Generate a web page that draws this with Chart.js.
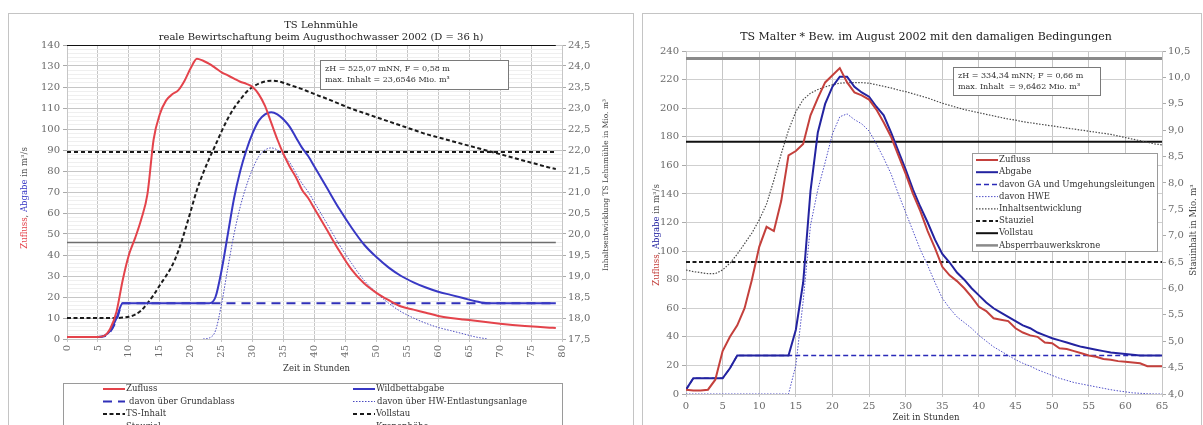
<!DOCTYPE html>
<html>
<head>
<meta charset="utf-8">
<script src="https://cdn.jsdelivr.net/npm/chart.js@4.4.1/dist/chart.umd.min.js"></script>
<style>
  body { margin: 0; background: #fff; width: 1203px; height: 425px; overflow: hidden; position: relative; }
  .panel { position: absolute; top: 13px; height: 430px; border: 1px solid #c4c4c4; box-sizing: border-box; }
  #panelL { left: 8px; width: 626px; }
  #panelR { left: 642px; width: 560px; }
  canvas { position: absolute; }
  #lehn { left: 8px; top: 13px; }
  #malter { left: 643px; top: 13px; }
</style>
</head>
<body>
<div class="panel" id="panelL"></div>
<div class="panel" id="panelR"></div>
<canvas id="lehn" width="625" height="427"></canvas>
<canvas id="malter" width="557" height="427"></canvas>
<script>
// ---- TS Lehnmühle (Stunden, m³/s, Mio. m³)
var lmHours = [0,1,2,3,4,5,6,7,8,9,10,11,12,13,14,15,16,17,18,19,20,21,22,23,24,25,26,27,28,29,30,31,32,33,34,35,36,37,38,39,40,
  42,44,46,48,50,52,54,56,58,60,62,64,66,68,70,72,74,76,78,79];
var lmZufluss = [1,1,1,1,1,1,1.5,5,13,28,40,48,57,69,95,107,113.5,116.5,118.5,123,129,133.5,132.5,131,129,127,125.5,124,122.5,121.5,120,116.5,111,103,95,88,82,77,71,67,62,
  52,42,33,26.5,22,18.5,15.5,14,12.5,11,10,9.3,8.7,8,7.3,6.7,6.2,5.8,5.4,5.2];
var lmWildbett = [1,1,1,1,1,1,1.5,4,10,17,17,17,17,17,17,17,17,17,17,17,17,17,17,17,20,33,50,67,80,90,98,104,107,108,107,104.5,101,96,91,87,82,
  72,62,53,45,39,34,30,27,24.5,22.5,21,19.5,18,17,17,17,17,17,17,17];
var lmGrund = [1,1,1,1,1,1,1.3,3.5,9,17,17,17,17,17,17,17,17,17,17,17,17,17,17,17,17,17,17,17,17,17,17,17,17,17,17,17,17,17,17,17,17,
  17,17,17,17,17,17,17,17,17,17,17,17,17,17,17,17,17,17,17,17];
var lmHWE = [null,null,null,null,null,null,null,null,null,null,null,null,null,null,null,null,null,null,null,null,null,null,0,0.5,4,17,34,50,63,73,81,87,90,91,90,87.5,84,79,74,70,65,
  55,45,36,28,22,17,13,10,7.5,5.5,4,2.5,1,0,null,null,null,null,null,null];
var lmInhalt = [18,18,18,18,18,18,18,18,18,18.01,18.03,18.08,18.18,18.35,18.55,18.78,19,19.25,19.6,20.05,20.55,21.05,21.45,21.8,22.12,22.45,22.75,23,23.2,23.38,23.5,23.58,23.63,23.65,23.64,23.6,23.55,23.5,23.45,23.39,23.33,
  23.22,23.1,22.98,22.88,22.78,22.68,22.58,22.48,22.38,22.3,22.22,22.14,22.06,21.98,21.9,21.82,21.74,21.66,21.58,21.55];
var lmLevelNames = ["Vollstau", "Stauziel", "Kronenhöhe"];
var lmLevels = [21.95, 19.8, 24.5];

// ---- TS Malter
var maHours = [0,1,2,3,4,5,6,7,8,9,10,11,12,13,14,15,16,17,18,19,20,21,22,23,24,25,26,27,28,29,30,31,32,
  33,34,35,36,37,38,39,40,41,42,43,44,45,46,47,48,49,50,51,52,53,54,55,56,57,58,59,60,61,62,63,64,65];
var maZufluss = [3,2.5,2.5,3,10,30,40,48,60,80,103,117,114,135,167,170,175,195,207,218,223,228,218,211,209,206,199,190,180,167,154,140,128,
  114,102,89,83,79,74,68,61,58,53,52,51,46,43,41,40,36,35.5,32,31.5,30,28.5,27,26,24.5,24,23,22.5,22,21.5,19.5,19.5,19.5];
var maAbgabe = [3,11,11,11,11,11,18,27,27,27,27,27,27,27,27,45,78,142,183,203,215,222,222,215,211,208,201,195,183,170,157,143,131,
  120,108,98,92,85,80,74,69,64,60,57,54,51,48,46,43,41,39,37.5,36,34.5,33,32,31,30,29,28.5,28,27.5,27,27,27,27];
var maGA = [3,11,11,11,11,11,18,27,27,27,27,27,27,27,27,27,27,27,27,27,27,27,27,27,27,27,27,27,27,27,27,27,27,
  27,27,27,27,27,27,27,27,27,27,27,27,27,27,27,27,27,27,27,27,27,27,27,27,27,27,27,27,27,27,27,27,27];
var maHWE = [0,0,0,0,0,0,0,0,0,0,0,0,0,0,0,20,65,118,143,162,182,194,196,192,189,184,175,165,154,140,127,114,101,
  90,78,67,60,54,50,46,41,37,33,30,27,24,21.5,19.5,17,15,13,11,9.5,8,7,6,5,4,3,2.2,1.5,0.8,0.5,0.2,0,0];
var maInhalt = [6.35,6.32,6.3,6.28,6.28,6.35,6.48,6.65,6.85,7.05,7.3,7.6,8.05,8.55,9,9.35,9.58,9.7,9.77,9.82,9.86,9.89,9.9,9.9,9.9,9.89,9.86,9.83,9.8,9.76,9.73,9.69,9.65,
  9.61,9.56,9.51,9.47,9.43,9.39,9.36,9.33,9.3,9.27,9.24,9.21,9.19,9.16,9.14,9.12,9.1,9.08,9.06,9.04,9.02,9,8.98,8.96,8.94,8.92,8.89,8.86,8.83,8.8,8.77,8.74,8.72];
var maLevelNames = ["Stauziel", "Vollstau", "Absperrbauwerkskrone"];
var maLevels = [6.5, 8.78, 10.36];

var FONT = '"DejaVu Serif", "Liberation Serif", serif';
Chart.defaults.font.family = FONT;
Chart.defaults.font.size = 10;
Chart.defaults.color = "#6a6a6a";

function pts(xs, ys) {
  return xs.map(function (x, i) { return { x: x, y: ys[i] }; });
}
function level(xs, v) {
  return [{ x: xs[0], y: v }, { x: xs[xs.length - 1], y: v }];
}
function comma(v) {
  return v.toFixed(1).replace(".", ",");
}

// rotated text made of coloured parts
function rotText(ctx, parts, x, y, size) {
  ctx.save();
  ctx.translate(x, y);
  ctx.rotate(-Math.PI / 2);
  ctx.font = size + "px " + FONT;
  ctx.textBaseline = "middle";
  ctx.textAlign = "left";
  var total = 0;
  parts.forEach(function (p) { total += ctx.measureText(p[0]).width; });
  var cx = -total / 2;
  parts.forEach(function (p) {
    ctx.fillStyle = p[1];
    ctx.fillText(p[0], cx, 0);
    cx += ctx.measureText(p[0]).width;
  });
  ctx.restore();
}

var extras = {
  id: "extras",
  afterDraw: function (chart, args, o) {
    var ctx = chart.ctx;
    var area = chart.chartArea;
    ctx.save();
    ctx.fillStyle = "#222";
    ctx.textAlign = "center";
    ctx.textBaseline = "middle";
    ctx.font = o.titleSize + "px " + FONT;
    o.title.forEach(function (t, i) { ctx.fillText(t, o.titleX, o.titleY + i * 12); });

    ctx.font = "8.5px " + FONT;
    ctx.fillStyle = "#333";
    ctx.fillText("Zeit in Stunden", (area.left + area.right) / 2 + 2, o.xTitleY);

    rotText(ctx, o.yTitle, o.yTitleX, o.yTitleY, 8.5);
    rotText(ctx, [[o.y1Title, "#444"]], o.y1TitleX, o.y1TitleY, o.y1Size);

    // info box
    var b = o.info;
    ctx.fillStyle = "#fff";
    ctx.fillRect(b.x, b.y, b.w, b.h);
    ctx.strokeStyle = "#7a7a7a";
    ctx.lineWidth = 1;
    ctx.strokeRect(b.x + 0.5, b.y + 0.5, b.w, b.h);
    ctx.fillStyle = "#333";
    ctx.textAlign = "left";
    ctx.font = "8px " + FONT;
    b.lines.forEach(function (t, i) { ctx.fillText(t, b.x + 5, b.y + 9 + i * 11); });

    // legend
    var L = o.legend;
    ctx.fillStyle = "#fff";
    ctx.fillRect(L.x, L.y, L.w, L.h);
    ctx.strokeStyle = "#9a9a9a";
    ctx.strokeRect(L.x + 0.5, L.y + 0.5, L.w, L.h);
    ctx.font = "8.5px " + FONT;
    L.items.forEach(function (it) {
      var ds = chart.data.datasets[it[0]];
      var sx = L.cols[it[1]];
      var sy = L.y + L.row0 + it[2] * L.gap;
      ctx.strokeStyle = ds.borderColor;
      ctx.lineWidth = Math.min(ds.borderWidth, 2.5);
      ctx.setLineDash(ds.borderDash || []);
      ctx.beginPath();
      ctx.moveTo(sx, sy);
      ctx.lineTo(sx + 22, sy);
      ctx.stroke();
      ctx.setLineDash([]);
      ctx.fillStyle = "#333";
      ctx.fillText(ds.label, sx + 23 + (it[3] || 0), sy);
    });
    ctx.restore();
  }
};

function line(label, xs, ys, color, width, dash, axis, smooth) {
  return {
    label: label,
    data: pts(xs, ys),
    borderColor: color,
    backgroundColor: color,
    borderWidth: width,
    borderDash: dash,
    yAxisID: axis,
    pointRadius: 0,
    fill: false,
    spanGaps: false,
    cubicInterpolationMode: smooth ? "monotone" : "default",
    tension: 0
  };
}

// ---------- left chart
new Chart(document.getElementById("lehn"), {
  type: "line",
  data: {
    datasets: [
      line("Zufluss", lmHours, lmZufluss, "#e4434b", 2, [], "y", true),
      line("Wildbettabgabe", lmHours, lmWildbett, "#3838c4", 2, [], "y", true),
      line("davon über Grundablass", lmHours, lmGrund, "#3030b8", 2, [9, 6], "y", true),
      line("davon über HW-Entlastungsanlage", lmHours, lmHWE, "#4a4ac0", 1, [1.5, 1.5], "y", true),
      line("TS-Inhalt", lmHours, lmInhalt, "#1a1a1a", 2, [4, 2.5], "y1", true),
      { label: lmLevelNames[0], data: level(lmHours, lmLevels[0]), borderColor: "#1a1a1a", borderWidth: 2, borderDash: [4, 3], yAxisID: "y1", pointRadius: 0 },
      { label: lmLevelNames[1], data: level(lmHours, lmLevels[1]), borderColor: "#6e6e6e", borderWidth: 1.5, yAxisID: "y1", pointRadius: 0 },
      { label: lmLevelNames[2], data: level(lmHours, lmLevels[2]), borderColor: "#111", borderWidth: 2, yAxisID: "y1", pointRadius: 0 }
    ]
  },
  options: {
    responsive: false,
    animation: false,
    layout: { padding: { top: 32, left: 0, right: 0, bottom: 0 } },
    scales: {
      x: {
        type: "linear", min: 0, max: 80,
        ticks: { stepSize: 5, minRotation: 90, maxRotation: 90, padding: 3, font: { size: 10 } },
        grid: { color: "#c6c6c6", tickLength: 3 },
        border: { color: "#c6c6c6" },
        afterFit: function (s) { s.height = 101; }
      },
      y: {
        min: 0, max: 140,
        ticks: { stepSize: 2, autoSkip: false, padding: 3, callback: function (v) { return v % 10 === 0 ? v : ""; } },
        grid: {
          color: function (c) { return c.tick && c.tick.value % 10 === 0 ? "#c6c6c6" : "#efefef"; },
          tickColor: function (c) { return c.tick && c.tick.value % 10 === 0 ? "#aaa" : "rgba(0,0,0,0)"; },
          tickLength: 4
        },
        border: { color: "#c6c6c6" },
        afterFit: function (s) { s.width = 59; }
      },
      y1: {
        position: "right", min: 17.5, max: 24.5,
        ticks: { stepSize: 0.5, autoSkip: false, padding: 2, callback: function (v) { return comma(v); } },
        grid: { drawOnChartArea: false, tickLength: 4, tickColor: "#aaa" },
        border: { color: "#c6c6c6" },
        afterFit: function (s) { s.width = 71; }
      }
    },
    plugins: {
      legend: { display: false },
      tooltip: { enabled: false },
      extras: {
        title: ["TS Lehnmühle", "reale Bewirtschaftung beim Augusthochwasser 2002 (D = 36 h)"],
        titleSize: 10, titleX: 313, titleY: 12,
        xTitleY: 356,
        yTitle: [["Zufluss", "#e4434b"], [", ", "#555"], ["Abgabe", "#3838c4"], [" in m³/s", "#555"]],
        yTitleX: 17, yTitleY: 185,
        y1Title: "Inhaltsentwicklung TS Lehnmühle in Mio. m³", y1Size: 7.5, y1TitleX: 598, y1TitleY: 172,
        info: { x: 312, y: 47, w: 188, h: 29, lines: ["zH = 525,07 mNN, F = 0,58 m", "max. Inhalt = 23,6546 Mio. m³"] },
        legend: {
          x: 55, y: 370, w: 499, h: 80, row0: 6, gap: 12.5, cols: [95, 345],
          items: [[0, 0, 0], [2, 0, 1, 3], [4, 0, 2], [6, 0, 3], [1, 1, 0], [3, 1, 1, 1], [5, 1, 2], [7, 1, 3]]
        }
      }
    }
  },
  plugins: [extras]
});

// ---------- right chart
new Chart(document.getElementById("malter"), {
  type: "line",
  data: {
    datasets: [
      line("Zufluss", maHours, maZufluss, "#c4403c", 2, [], "y", false),
      line("Abgabe", maHours, maAbgabe, "#2323a0", 2, [], "y", false),
      line("davon GA und Umgehungsleitungen", maHours, maGA, "#2a2ab8", 1.5, [5, 3], "y", false),
      line("davon HWE", maHours, maHWE, "#5050c8", 1, [1.5, 1.5], "y", false),
      line("Inhaltsentwicklung", maHours, maInhalt, "#4a4a4a", 1.2, [1.5, 1.5], "y1", false),
      { label: maLevelNames[0], data: level(maHours, maLevels[0]), borderColor: "#1a1a1a", borderWidth: 2, borderDash: [4, 2.5], yAxisID: "y1", pointRadius: 0 },
      { label: maLevelNames[1], data: level(maHours, maLevels[1]), borderColor: "#111", borderWidth: 2, yAxisID: "y1", pointRadius: 0 },
      { label: maLevelNames[2], data: level(maHours, maLevels[2]), borderColor: "#8a8a8a", borderWidth: 3, yAxisID: "y1", pointRadius: 0 }
    ]
  },
  options: {
    responsive: false,
    animation: false,
    layout: { padding: { top: 38, left: 0, right: 0, bottom: 0 } },
    scales: {
      x: {
        type: "linear", min: 0, max: 65,
        ticks: { stepSize: 5, maxRotation: 0, padding: 3 },
        grid: { color: "#c6c6c6", tickLength: 3 },
        border: { color: "#c6c6c6" },
        afterFit: function (s) { s.height = 46; }
      },
      y: {
        min: 0, max: 240,
        ticks: { stepSize: 20, autoSkip: false, padding: 3 },
        grid: { color: "#cfcfcf", tickLength: 4, tickColor: "#aaa" },
        border: { color: "#c6c6c6" },
        afterFit: function (s) { s.width = 43; }
      },
      y1: {
        position: "right", min: 4, max: 10.5,
        ticks: { stepSize: 0.5, autoSkip: false, padding: 2, callback: function (v) { return comma(v); } },
        grid: { drawOnChartArea: false, tickLength: 4, tickColor: "#aaa" },
        border: { color: "#c6c6c6" },
        afterFit: function (s) { s.width = 38; }
      }
    },
    plugins: {
      legend: { display: false },
      tooltip: { enabled: false },
      extras: {
        title: ["TS Malter * Bew. im August 2002 mit den damaligen Bedingungen"],
        titleSize: 11, titleX: 283, titleY: 24,
        xTitleY: 405,
        yTitle: [["Zufluss", "#c4403c"], [", ", "#555"], ["Abgabe", "#2323a0"], [" in m³/s", "#555"]],
        yTitleX: 14, yTitleY: 222,
        y1Title: "Stauinhalt in Mio. m³", y1Size: 8.5, y1TitleX: 551, y1TitleY: 217,
        info: { x: 310, y: 54, w: 147, h: 28, lines: ["zH = 334,34 mNN; F = 0,66 m", "max. Inhalt  = 9,6462 Mio. m³"] },
        legend: {
          x: 329, y: 140, w: 185, h: 98, row0: 7, gap: 12.2, cols: [333],
          items: [[0, 0, 0], [1, 0, 1], [2, 0, 2], [3, 0, 3], [4, 0, 4], [5, 0, 5], [6, 0, 6], [7, 0, 7]]
        }
      }
    }
  },
  plugins: [extras]
});
</script>
</body>
</html>
